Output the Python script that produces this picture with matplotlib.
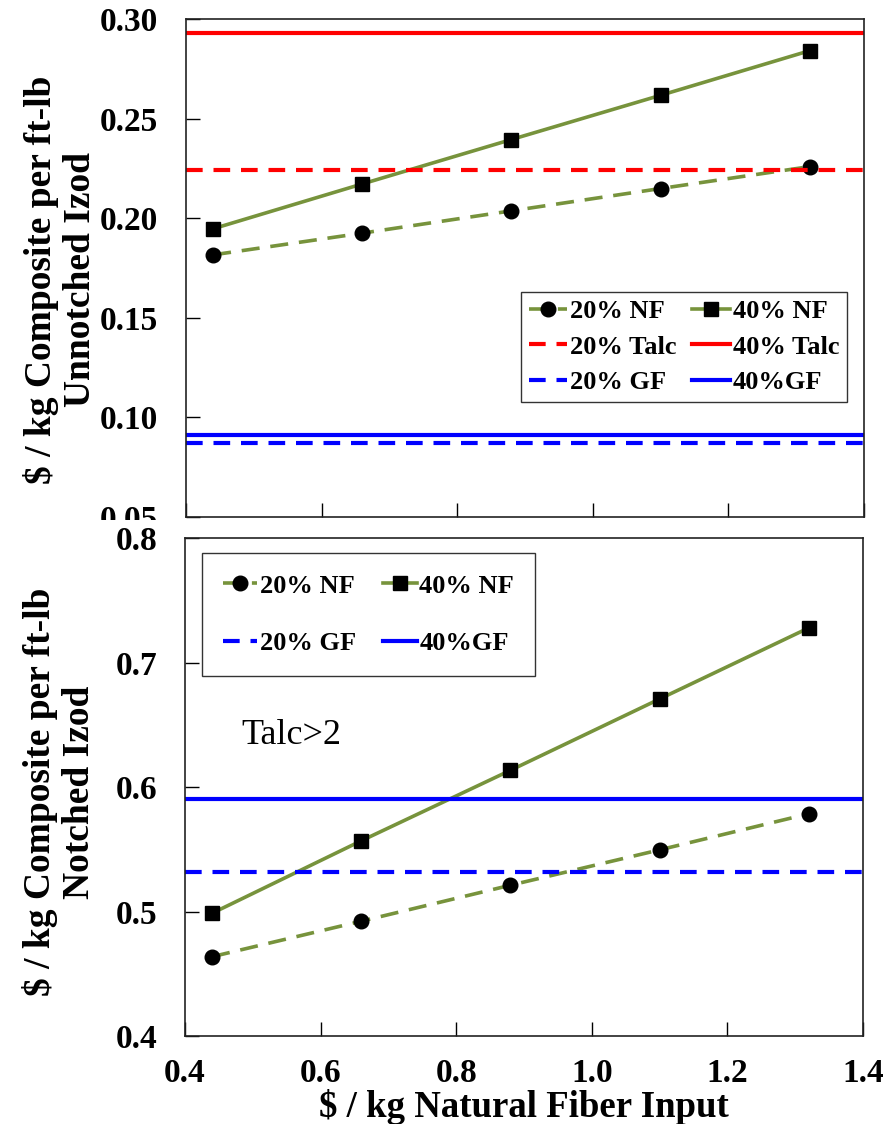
import matplotlib
matplotlib.use('Agg')
from matplotlib import pyplot as plt
from matplotlib.patches import Rectangle

plt.rcParams['font.family'] = ['Liberation Serif', 'DejaVu Serif']
plt.rcParams['font.weight'] = 'bold'

# Datos
fiber_cost = [0.44, 0.66, 0.88, 1.10, 1.32]

# Unnotched Izod
unnotched_nf20 = [0.1816, 0.1925, 0.2037, 0.2149, 0.2259]
unnotched_nf40 = [0.1947, 0.2172, 0.2395, 0.2617, 0.2841]
unnotched_talc20 = 0.2241
unnotched_talc40 = 0.2928
unnotched_gf20 = 0.0872
unnotched_gf40 = 0.0914

# Notched Izod
notched_nf20 = [0.4637, 0.4922, 0.5211, 0.5495, 0.5785]
notched_nf40 = [0.4986, 0.5568, 0.6134, 0.6707, 0.7278]
notched_gf20 = 0.5319
notched_gf40 = 0.5901

green = '#77933C'
red = '#FF0000'
blue = '#0000FF'

fig = plt.figure(figsize=(8.83, 11.24), dpi=100)
ax1 = fig.add_axes([186 / 883, 1 - 517 / 1124, 678 / 883, 498 / 1124])
ax2 = fig.add_axes([185 / 883, 1 - 1036 / 1124, 678 / 883, 498 / 1124])
ax2.set_zorder(1)

# tapa la etiqueta 0.05 como en el original
fig.patches.append(Rectangle((0, 1 - 560 / 1124), 184 / 883, 40 / 1124,
                             transform=fig.transFigure, facecolor='white',
                             edgecolor='none', zorder=0.5))

dash_nf = (5, 3)
dash_ref = (4, 2.6)

def draw_nf(ax, y20, y40):
    l20, = ax.plot(fiber_cost, y20, color=green, lw=2.6, dashes=dash_nf,
                   marker='o', ms=10.5, mfc='black', mec='black', label='20% NF')
    l40, = ax.plot(fiber_cost, y40, color=green, lw=2.6,
                   marker='s', ms=10.5, mfc='black', mec='black', label='40% NF')
    return l20, l40

# --- panel superior
n20, n40 = draw_nf(ax1, unnotched_nf20, unnotched_nf40)
t20 = ax1.axhline(unnotched_talc20, color=red, lw=3, dashes=dash_ref, label='20% Talc')
t40 = ax1.axhline(unnotched_talc40, color=red, lw=3, label='40% Talc')
g20 = ax1.axhline(unnotched_gf20, color=blue, lw=3, dashes=dash_ref, label='20% GF')
g40 = ax1.axhline(unnotched_gf40, color=blue, lw=3, label='40%GF')

ax1.set_xlim(0.4, 1.4)
ax1.set_ylim(0.05, 0.30)
ax1.set_xticks([0.4, 0.6, 0.8, 1.0, 1.2, 1.4])
ax1.set_xticklabels([])
ax1.set_yticks([0.05, 0.10, 0.15, 0.20, 0.25, 0.30])
ax1.set_yticklabels(['%.2f' % v for v in [0.05, 0.10, 0.15, 0.20, 0.25, 0.30]])
ax1.set_ylabel('$ / kg Composite per ft-lb\nUnnotched Izod', fontsize=27,
               fontweight='bold', linespacing=1.15)

leg1 = ax1.legend(handles=[n20, t20, g20, n40, t40, g40], ncol=2,
                  loc='upper left', bbox_to_anchor=(0.494, 0.452),
                  borderaxespad=0, fontsize=19, frameon=True, fancybox=False,
                  edgecolor='black', handlelength=1.45, handletextpad=0.1,
                  columnspacing=0.6, labelspacing=0.45, borderpad=0.3)
leg1.get_frame().set_linewidth(1.0)

# --- panel inferior
m20, m40 = draw_nf(ax2, notched_nf20, notched_nf40)
h20 = ax2.axhline(notched_gf20, color=blue, lw=3, dashes=dash_ref, label='20% GF')
h40 = ax2.axhline(notched_gf40, color=blue, lw=3, label='40%GF')

ax2.set_xlim(0.4, 1.4)
ax2.set_ylim(0.4, 0.8)
ax2.set_xticks([0.4, 0.6, 0.8, 1.0, 1.2, 1.4])
ax2.set_xticklabels(['0.4', '0.6', '0.8', '1.0', '1.2', '1.4'])
ax2.set_yticks([0.4, 0.5, 0.6, 0.7, 0.8])
ax2.set_yticklabels(['%.1f' % v for v in [0.4, 0.5, 0.6, 0.7, 0.8]])
ax2.set_ylabel('$ / kg Composite per ft-lb\nNotched Izod', fontsize=27,
               fontweight='bold', linespacing=1.15)
ax2.set_xlabel('$ / kg Natural Fiber Input', fontsize=26.5, fontweight='bold',
               labelpad=0)
ax2.text(0.483, 0.6415, 'Talc>2', fontsize=26, fontweight='normal',
         va='center', ha='left')

leg2 = ax2.legend(handles=[m20, h20, m40, h40], ncol=2,
                  loc='upper left', bbox_to_anchor=(0.025, 0.970),
                  borderaxespad=0, fontsize=19, frameon=True, fancybox=False,
                  edgecolor='black', handlelength=1.3, handletextpad=0.1,
                  columnspacing=1.0, labelspacing=1.3, borderpad=0.8)
leg2.get_frame().set_linewidth(1.0)

for ax in (ax1, ax2):
    ax.tick_params(direction='in', length=10, width=1, labelsize=24, pad=20,
                   top=False, right=False)
    ax.tick_params(axis='x', pad=16)
    for lab in ax.get_xticklabels() + ax.get_yticklabels():
        lab.set_fontweight('bold')
    for s in ax.spines.values():
        s.set_linewidth(1.2)
        s.set_color('#222222')

ax1.yaxis.set_label_coords(-0.13, 0.476)
ax2.yaxis.set_label_coords(-0.13, 0.49)

fig.savefig('out.png', dpi=100)
